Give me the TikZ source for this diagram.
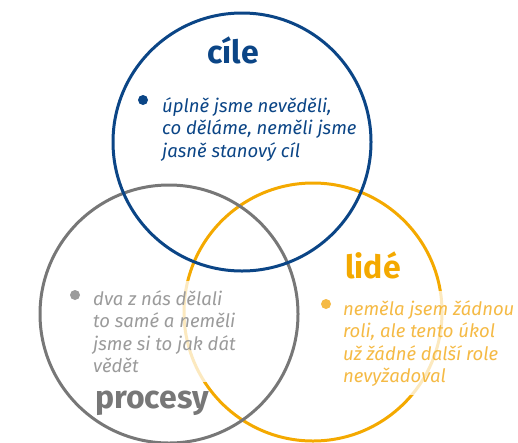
\documentclass[tikz,border=0pt]{standalone}
\usepackage{fontspec}
\setmainfont{Fira Sans}
\usetikzlibrary{positioning}
\definecolor{cileblue}{HTML}{0B4586}
\definecolor{procgrey}{HTML}{777777}
\definecolor{lideyellow}{HTML}{F4A900}
\definecolor{notegrey}{HTML}{9B9B9B}
\definecolor{noteyellow}{HTML}{F5BA45}

\begin{document}
\begin{tikzpicture}[x=1pt, y=-1pt,
    ring/.style={circle, draw, line width=3pt, minimum size=258pt, inner sep=0pt},
    head/.style={font=\fontsize{32}{36}\selectfont\bfseries, inner sep=0pt, anchor=base},
    note/.style={align=left, anchor=north west, fill=white, fill opacity=0.75,
                 text opacity=1, inner xsep=1pt, inner ysep=9pt,
                 font=\fontsize{18.5}{22.5}\selectfont\itshape},
    dot/.style={circle, fill, inner sep=0pt, minimum size=10pt},
]
\useasboundingbox (0,0) rectangle (518,442);
% the three rings
\node[ring, draw=lideyellow] (L) at (313,312) {};
\node[ring, draw=procgrey] (P) at (169,314) {};
\node[ring, draw=cileblue] (C) at (242,142) {};
% notes, each with its bullet; the white fill fades the ring behind
\node[dot, fill=cileblue] (Cdot) at (143,100) {};
\node[note, text=cileblue] (Cnote) at (161,88)
  {úplně jsme nevěděli,\\ co děláme, neměli jsme\\jasně stanový cíl};
\node[dot, fill=notegrey] (Pdot) at (75,295) {};
\node[note, text=notegrey] (Pnote) at (92,281)
  {dva z nás dělali\\to samé a neměli\\jsme si to jak dát\\vědět};
\node[dot, fill=noteyellow] (Ldot) at (326,304) {};
\node[note, text=noteyellow] (Lnote) at (342,291)
  {neměla jsem žádnou\\ roli, ale tento úkol\\už žádné další role\\nevyžadoval};
% ring titles
\node[head, text=cileblue] (Cile) at (233,63) {cíle};
\node[head, text=lideyellow] (Lide) at (373,278) {lidé};
\node[head, text=procgrey] (Procesy) at (152,408) {procesy};
\end{tikzpicture}
\end{document}
